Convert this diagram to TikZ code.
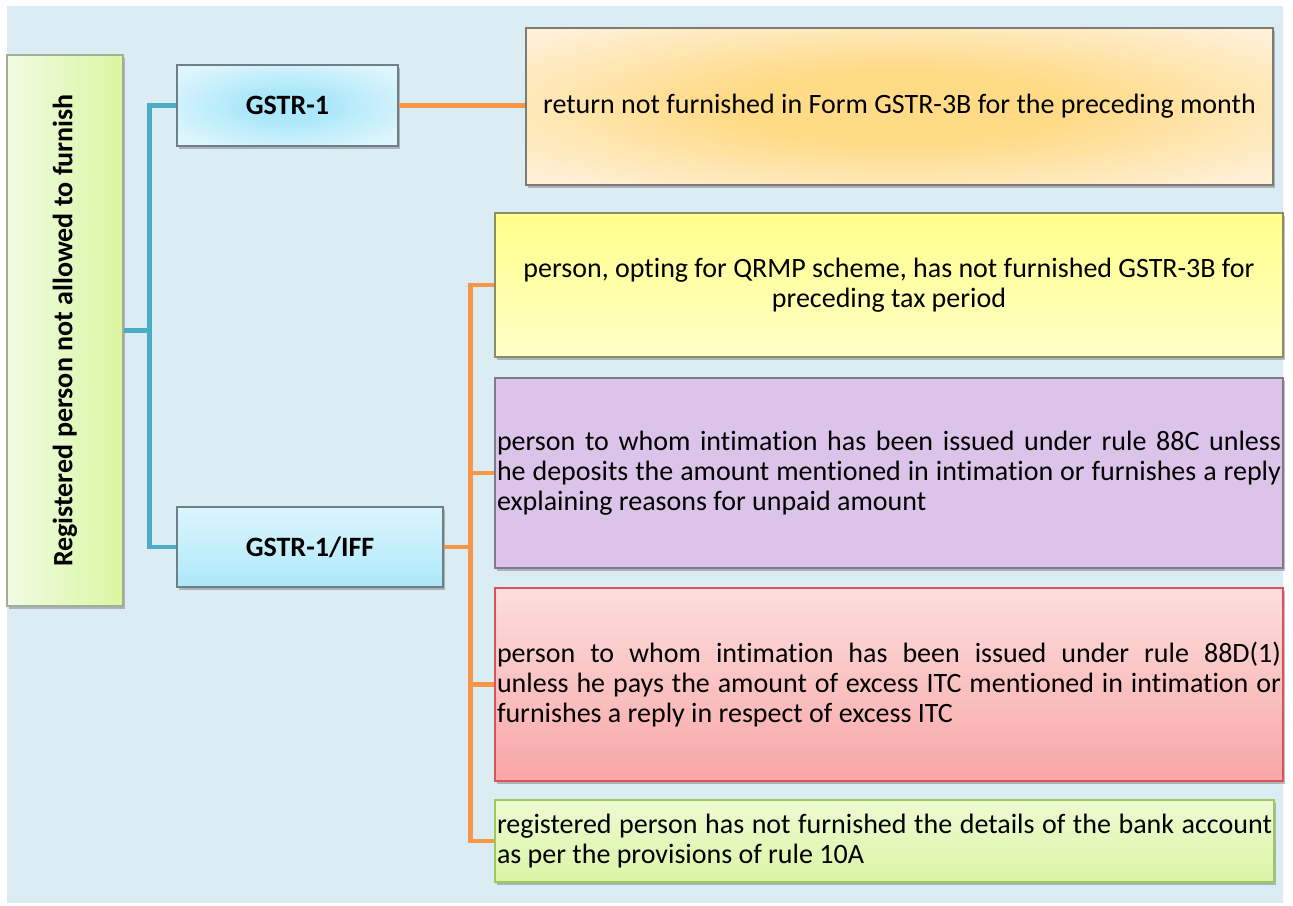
\documentclass[tikz,border=0pt]{standalone}
\usepackage{fontspec}
\usepackage{graphicx}
\setmainfont{Carlito}[Ligatures=NoCommon]
\usetikzlibrary{shadows}
\definecolor{bgc}{HTML}{DBECF3}
\definecolor{blc}{HTML}{4BACC6}
\definecolor{orc}{HTML}{F79646}
\definecolor{lgA}{HTML}{F1FBE3}
\definecolor{lgB}{HTML}{D9F6A2}
\definecolor{lgE}{HTML}{A3AE98}
\definecolor{cyA}{HTML}{ADE8FA}
\definecolor{cyB}{HTML}{DDF5FD}
\definecolor{cyE}{HTML}{6F7F88}
\definecolor{peA}{HTML}{FFDB88}
\definecolor{peB}{HTML}{FFF0D8}
\definecolor{peE}{HTML}{7F7B74}
\definecolor{yeA}{HTML}{FFFF8A}
\definecolor{yeB}{HTML}{FFFFC8}
\definecolor{yeE}{HTML}{8C8C66}
\definecolor{puA}{HTML}{DCC3E9}
\definecolor{puE}{HTML}{7E7A8A}
\definecolor{reA}{HTML}{FCDEDE}
\definecolor{reB}{HTML}{F9A6A6}
\definecolor{reE}{HTML}{D9545A}
\definecolor{grA}{HTML}{EEFAD2}
\definecolor{grB}{HTML}{DBF5A6}
\definecolor{grE}{HTML}{9BC95C}
\pgfdeclareradialshading{peachrad}{\pgfpoint{0bp}{0bp}}{color(0bp)=(peA); color(12bp)=(peA); color(33bp)=(peB); color(50bp)=(peB)}
\pgfdeclareradialshading{cyanrad}{\pgfpoint{0bp}{0bp}}{color(0bp)=(cyA); color(10bp)=(cyA); color(30bp)=(cyB); color(50bp)=(cyB)}
\begin{document}
\begin{tikzpicture}[x=1pt,y=-1pt,
  box/.style={draw, line width=1.2pt, inner xsep=2pt, inner ysep=0pt,
    font=\fontsize{28}{30}\selectfont,
    drop shadow={shadow xshift=2pt, shadow yshift=-3pt, opacity=0.35, fill=black!70}},
  bluecon/.style={draw=blc, line width=4.5pt},
  orcon/.style={draw=orc, line width=4.5pt},
  leftbox/.style={box, draw=lgE, left color=lgA, right color=lgB},
  cyanradbox/.style={box, draw=cyE, shading=cyanrad},
  cyanvert/.style={box, draw=cyE, top color=cyB, bottom color=cyA},
  peachbox/.style={box, draw=peE, shading=peachrad},
  yellowbox/.style={box, draw=yeE, top color=yeA, bottom color=yeB},
  purplebox/.style={box, draw=puE, fill=puA},
  redbox/.style={box, draw=reE, top color=reA, bottom color=reB},
  greenbox/.style={box, draw=grE, top color=grA, bottom color=grB}
]
\useasboundingbox (0,0) rectangle (1293,905);
\fill[bgc] (7,6) rectangle (1283,903);

\node[leftbox, minimum width=116pt, minimum height=551pt] (reg) at (65,330.5)
  {\rotatebox{90}{\bfseries Registered person not allowed to furnish}};

\node[cyanradbox, minimum width=221pt, minimum height=81pt] (g1) at (287.5,105.5) {\bfseries GSTR-1};
\node[cyanvert, minimum width=266pt, minimum height=80pt] (g2) at (310,547) {\bfseries GSTR-1/IFF};

\node[peachbox, minimum width=747pt, minimum height=157pt] (tbox) at (899.5,106.5)
  {return not furnished in Form GSTR-3B for the preceding month};

\node[yellowbox, minimum width=788pt, minimum height=144pt, align=center] (q) at (889,285)
  {person, opting for QRMP scheme, has not furnished GSTR-3B for\\ preceding tax period};

\node[purplebox, text width=784pt, minimum height=190pt, align=justify] (p) at (889,473)
  {person to whom intimation has been issued under rule 88C unless\linebreak
   he deposits the amount mentioned in intimation or furnishes a reply\linebreak
   explaining reasons for unpaid amount};

\node[redbox, text width=784pt, minimum height=193pt, align=justify] (r) at (889,684.5)
  {person to whom intimation has been issued under rule 88D(1)\linebreak
   unless he pays the amount of excess ITC mentioned in intimation or\linebreak
   furnishes a reply in respect of excess ITC};

\node[greenbox, text width=775pt, minimum height=82pt, align=justify] (gr) at (884.5,841)
  {registered person has not furnished the details of the bank account\linebreak
   as per the provisions of rule 10A};

% blue connectors
\draw[bluecon] (reg.east) -- ++(26,0) coordinate (bj);
\draw[bluecon] (g1.west) -| (bj) |- (g2.west);

% orange connectors
\draw[orcon] (g1.east) -- (g1.east -| tbox.west);
\draw[orcon] (g2.east) -- ++(27,0) coordinate (oj);
\draw[orcon] (q.west) -| (oj) |- (gr.west);
\draw[orcon] (p.west) -| (oj);
\draw[orcon] (r.west) -| (oj);
\end{tikzpicture}
\end{document}
